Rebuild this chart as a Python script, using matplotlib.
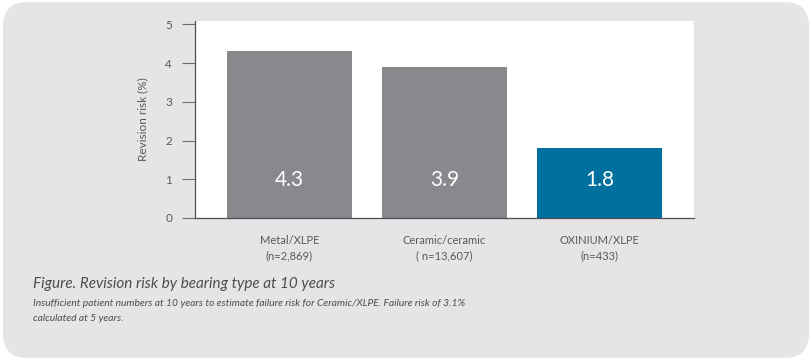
import matplotlib
matplotlib.use("Agg")
import matplotlib.pyplot as plt
from matplotlib.patches import FancyBboxPatch

categories = ["Metal/XLPE\n(n=2,869)", "Ceramic/ceramic\n( n=13,607)", "OXINIUM/XLPE\n(n=433)"]
values = [4.3, 3.9, 1.8]
value_labels = ["4.3", "3.9", "1.8"]
colors = ["#88898d", "#88898d", "#00719e"]
yticks = [0, 1, 2, 3, 4, 5]

plt.rcParams['font.family'] = ['Lato', 'DejaVu Sans']
txt = "#58595b"

fig = plt.figure(figsize=(8.12, 3.6), dpi=100, facecolor="white")
bg = FancyBboxPatch((3/812, 0.006), 806/812, 0.988,
                    boxstyle="round,pad=0,rounding_size=0.03",
                    transform=fig.transFigure, facecolor="#e6e4e5",
                    edgecolor="none", zorder=-10, mutation_aspect=812/360)
fig.patches.append(bg)

ax = fig.add_axes([195/812, 1-218/360, 499/812, 197/360])
ax.set_facecolor("white")
x = list(range(len(values)))
ax.bar(x, values, width=0.805, color=colors, zorder=2)
for xi, lab in zip(x, value_labels):
    ax.text(xi, 0.98, lab, ha="center", va="center", color="white", fontsize=15)

ax.set_xlim(-0.61, 2.61)
ax.set_ylim(0, 5.085)
ax.set_yticks(yticks)
ax.set_xticks(x)
ax.set_xticklabels(categories, fontsize=8, color=txt, linespacing=1.55)
ax.tick_params(axis="x", length=0, pad=12)
ax.tick_params(axis="y", length=9.5, width=0.8, color="#6d6e71", pad=7, labelsize=8.5, labelcolor=txt)
for s in ["top", "right"]:
    ax.spines[s].set_visible(False)
for s in ["left", "bottom"]:
    ax.spines[s].set_color("#4a4f57")
    ax.spines[s].set_linewidth(0.9)
ax.set_ylabel("Revision risk (%)", fontsize=8.5, color=txt, labelpad=12)

fig.text(33/812, 1-284/360, "Figure. Revision risk by bearing type at 10 years",
         fontsize=11, style="italic", color="#4d4d4f", va="center", ha="left")
fig.text(33/812, 1-299/360,
         "Insufficient patient numbers at 10 years to estimate failure risk for Ceramic/XLPE. Failure risk of 3.1%\ncalculated at 5 years.",
         fontsize=7.4, style="italic", color="#4d4d4f", va="top", ha="left", linespacing=1.9)

fig.savefig("out.png", dpi=100, facecolor=fig.get_facecolor())
